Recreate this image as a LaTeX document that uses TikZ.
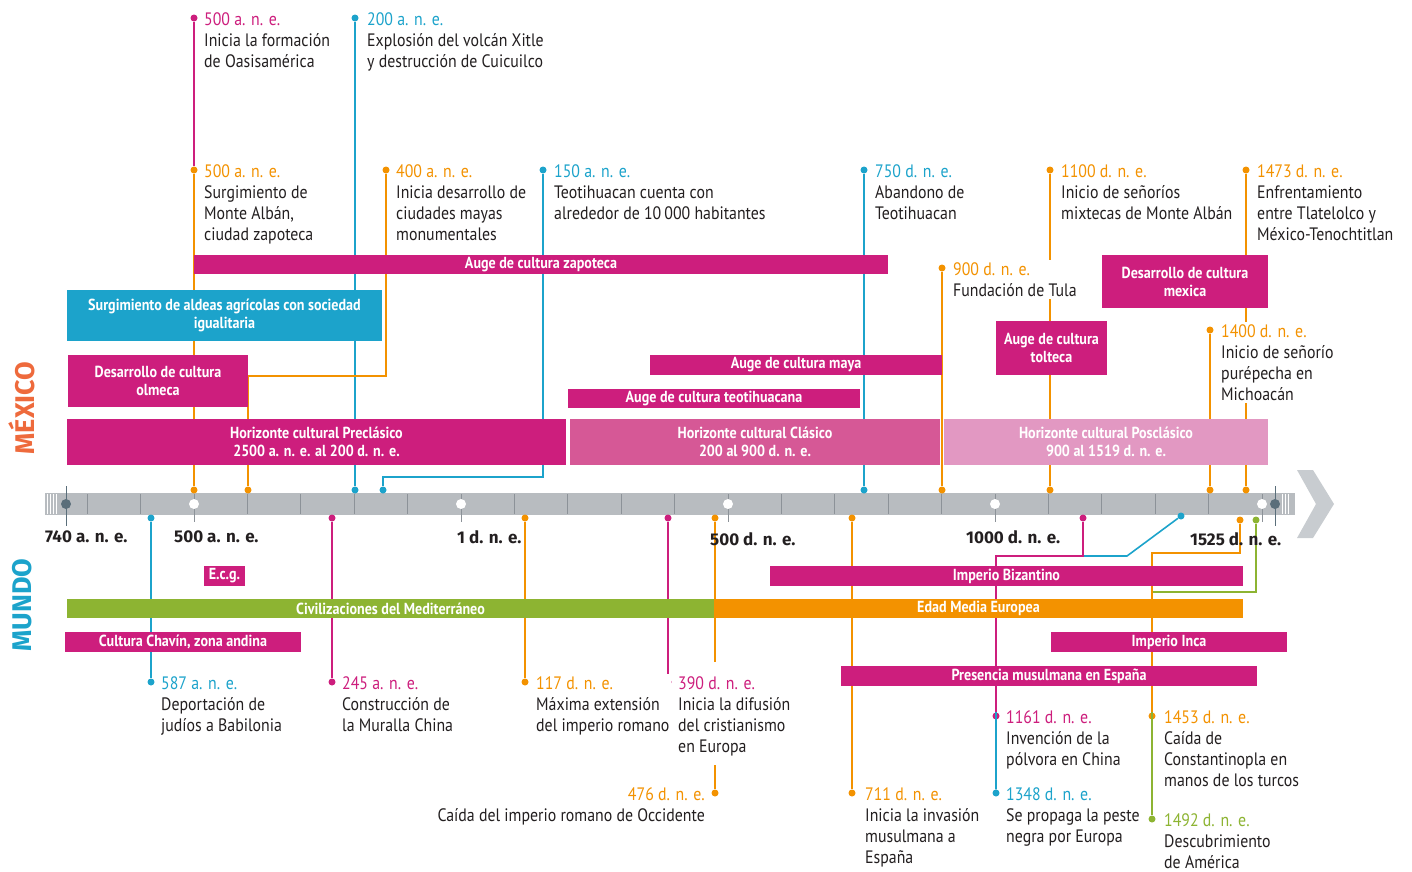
\documentclass[tikz,border=0pt]{standalone}
\usepackage{fontspec}
\setmainfont{PT Sans}[FakeStretch=0.88]
\newfontfamily\axisfont{Fira Sans}
\usetikzlibrary{positioning}

\definecolor{mag}{RGB}{205,30,125}
\definecolor{cyanev}{RGB}{28,163,203}
\definecolor{orangeev}{RGB}{243,146,0}
\definecolor{greenev}{RGB}{141,180,50}
\definecolor{clasico}{RGB}{214,88,150}
\definecolor{posclasico}{RGB}{226,152,194}
\definecolor{axisgray}{RGB}{184,188,192}
\definecolor{arrowgray}{RGB}{200,204,208}
\definecolor{tickgray}{RGB}{140,146,152}
\definecolor{endgray}{RGB}{90,110,122}
\definecolor{ink}{RGB}{35,31,32}
\definecolor{mexicocol}{RGB}{238,106,60}

\begin{document}
\begin{tikzpicture}[x=1pt,y=-1pt,
    epoch/.style={rectangle, inner sep=0pt, align=center, text=white,
                  font=\bfseries\fontsize{16}{18}\selectfont},
    ev/.style={anchor=north west, inner sep=2pt, align=left, text=ink,
               fill=white, font=\fontsize{18}{21.3}\selectfont},
    evdot/.style={circle, inner sep=0pt, minimum size=7pt},
    link/.style={line width=1.6pt},
    yr/.style={anchor=west, inner sep=0pt, text=ink,
               font=\axisfont\bfseries\fontsize{17}{20}\selectfont},
    side/.style={rotate=90, inner sep=0pt,
                 font=\axisfont\bfseries\fontsize{27}{30}\selectfont}]

    \useasboundingbox (0,0) rectangle (1412,871);

    % axis
    \fill[axisgray] (45,493) rectangle (1295,515);
    \fill[arrowgray] (1297,470) -- (1313,470) -- (1334,504) -- (1313,538)
        -- (1297,538) -- (1316,504) -- cycle;
    \foreach \h in {47,50,53,56,1282,1285,1288}
        \draw[white, line width=0.8pt] (\h,494) -- (\h,514);
    \foreach \k in {0,...,22}
        \draw[tickgray, line width=0.8pt] ({87.2+53.4*\k},494) -- ({87.2+53.4*\k},514);
    \foreach \px in {194,461,728,995,1262} {
        \draw[tickgray, line width=0.8pt] (\px,508) -- (\px,522);
        \fill[white] (\px,504) circle (5pt);
    }
    \draw[endgray, line width=1pt] (66,486) -- (66,526);
    \draw[endgray, line width=1pt] (1275,486) -- (1275,526);
    \fill[endgray] (66,504) circle (5pt);
    \fill[endgray] (1275,504) circle (5pt);

    % dots, Mexico
    \node[evdot, fill=mag] (oasis) at (194,18) {};
    \node[evdot, fill=cyanev] (xitle) at (355,18) {};
    \node[evdot, fill=orangeev] (montealban) at (194,170) {};
    \node[evdot, fill=orangeev] (mayas) at (386,170) {};
    \node[evdot, fill=cyanev] (teoti) at (543,170) {};
    \node[evdot, fill=cyanev] (abandono) at (864,170) {};
    \node[evdot, fill=orangeev] (mixtecas) at (1050,170) {};
    \node[evdot, fill=orangeev] (tlatelolco) at (1246,170) {};
    \node[evdot, fill=orangeev] (tula) at (942,268) {};
    \node[evdot, fill=orangeev] (purepecha) at (1210,330) {};

    \node[evdot, fill=cyanev] (xitleAx) at (355,490) {};
    \node[evdot, fill=orangeev] (montealbanAx) at (194,490) {};
    \node[evdot, fill=orangeev] (mayasAx) at (248,490) {};
    \node[evdot, fill=cyanev] (teotiAx) at (383,490) {};
    \node[evdot, fill=cyanev] (abandonoAx) at (864,490) {};
    \node[evdot, fill=orangeev] (mixtecasAx) at (1050,490) {};
    \node[evdot, fill=orangeev] (tlatelolcoAx) at (1246,490) {};
    \node[evdot, fill=orangeev] (tulaAx) at (942,490) {};
    \node[evdot, fill=orangeev] (purepechaAx) at (1210,490) {};

    % dots, Mundo
    \node[evdot, fill=cyanev] (babiloniaAx) at (151,518) {};
    \node[evdot, fill=mag] (murallaAx) at (332,518) {};
    \node[evdot, fill=orangeev] (romanoAx) at (525,518) {};
    \node[evdot, fill=mag] (cristianismoAx) at (668,518) {};
    \node[evdot, fill=orangeev] (occAx) at (715,518) {};
    \node[evdot, fill=orangeev] (invasionAx) at (852,518) {};
    \node[evdot, fill=mag] (polvoraAx) at (1083,518) {};
    \node[evdot, fill=cyanev] (pesteAx) at (1181,516) {};
    \node[evdot, fill=orangeev] (constAx) at (1240,520) {};
    \node[evdot, fill=greenev] (americaAx) at (1256,520) {};

    \node[evdot, fill=cyanev] (babilonia) at (151,682) {};
    \node[evdot, fill=mag] (muralla) at (332,682) {};
    \node[evdot, fill=orangeev] (romano) at (525,682) {};
    \node[evdot, fill=mag] (cristianismo) at (668,682) {};
    \node[evdot, fill=orangeev] (occ) at (715,793) {};
    \node[evdot, fill=orangeev] (invasion) at (852,793) {};
    \node[evdot, fill=mag] (polvora) at (996,716) {};
    \node[evdot, fill=cyanev] (peste) at (996,793) {};
    \node[evdot, fill=orangeev] (const) at (1152,716) {};
    \node[evdot, fill=greenev] (america) at (1152,819) {};

    \coordinate (mayasK) at (248,376);
    \coordinate (teotiK) at (383,477);
    \coordinate (occGapA) at (715,662);
    \coordinate (occGapB) at (715,765);
    \coordinate (polvoraK) at (996,556);
    \coordinate (pesteK) at (1127,556);
    \coordinate (constK) at (1152,553);
    \coordinate (americaK) at (1152,592);

    % connectors
    \draw[link, mag] (oasis) -- (montealban);
    \draw[link, cyanev] (xitle) -- (xitleAx);
    \draw[link, orangeev] (montealban) -- (montealbanAx);
    \draw[link, orangeev] (mayas) |- (mayasK) -- (mayasAx);
    \draw[link, cyanev] (teoti) |- (teotiK) -- (teotiAx);
    \draw[link, cyanev] (abandono) -- (abandonoAx);
    \draw[link, orangeev] (mixtecas) -- (mixtecasAx);
    \draw[link, orangeev] (tlatelolco) -- (tlatelolcoAx);
    \draw[link, orangeev] (tula) -- (tulaAx);
    \draw[link, orangeev] (purepecha) -- (purepechaAx);

    \draw[link, cyanev] (babiloniaAx) -- (babilonia);
    \draw[link, mag] (murallaAx) -- (muralla);
    \draw[link, orangeev] (romanoAx) -- (romano);
    \draw[link, mag] (cristianismoAx) -- (cristianismo);
    \draw[link, orangeev] (occAx) -- (occGapA);
    \draw[link, orangeev] (occGapB) -- (occ);
    \draw[link, orangeev] (invasionAx) -- (invasion);
    \draw[link, cyanev] (pesteAx) -- (pesteK) -- (polvoraK) -- (peste);
    \draw[link, mag] (polvoraAx) |- (polvoraK) -- (polvora);
    \draw[link, greenev] (americaAx) |- (americaK) -- (america);
    \draw[link, orangeev] (constAx) |- (constK) -- (const);

    % periods, Mexico
    \node[epoch, fill=mag, minimum width=694pt, minimum height=19pt]
        (zapoteca) at (541,264.5) {Auge de cultura zapoteca};
    \node[epoch, fill=cyanev, minimum width=315pt, minimum height=51pt]
        (aldeas) at (224.5,315.5) {Surgimiento de aldeas agrícolas con sociedad\\igualitaria};
    \node[epoch, fill=mag, minimum width=180pt, minimum height=52pt]
        (olmeca) at (158,381) {Desarrollo de cultura\\olmeca};
    \node[epoch, fill=mag, minimum width=499pt, minimum height=46pt]
        (preclasico) at (316.5,442) {Horizonte cultural Preclásico\\2500 a. n. e. al 200 d. n. e.};
    \node[epoch, fill=clasico, minimum width=370pt, minimum height=46pt]
        (clasico) at (755,442) {Horizonte cultural Clásico\\200 al 900 d. n. e.};
    \node[epoch, fill=posclasico, minimum width=324pt, minimum height=46pt]
        (posclasico) at (1106,442) {Horizonte cultural Posclásico\\900 al 1519 d. n. e.};
    \node[epoch, fill=mag, minimum width=292pt, minimum height=20pt]
        (maya) at (796,365) {Auge de cultura maya};
    \node[epoch, fill=mag, minimum width=292pt, minimum height=19pt]
        (teotihuacana) at (714,398.5) {Auge de cultura teotihuacana};
    \node[epoch, fill=mag, minimum width=111pt, minimum height=54pt]
        (tolteca) at (1051.5,348) {Auge de cultura\\tolteca};
    \node[epoch, fill=mag, minimum width=166pt, minimum height=53pt]
        (mexica) at (1185,281.5) {Desarrollo de cultura\\mexica};

    % periods, Mundo
    \node[epoch, fill=mag, minimum width=41pt, minimum height=20pt]
        (ecg) at (224.5,576) {E.c.g.};
    \node[epoch, fill=greenev, minimum width=647pt, minimum height=19pt]
        (mediterraneo) at (390.5,608.5) {Civilizaciones del Mediterráneo};
    \node[epoch, fill=orangeev, minimum width=529pt, minimum height=19pt]
        (edadmedia) at (978.5,608.5) {Edad Media Europea};
    \node[epoch, fill=mag, minimum width=473pt, minimum height=20pt]
        (bizantino) at (1006.5,576) {Imperio Bizantino};
    \node[epoch, fill=mag, minimum width=236pt, minimum height=20pt]
        (chavin) at (183,642) {Cultura Chavín, zona andina};
    \node[epoch, fill=mag, minimum width=236pt, minimum height=20pt]
        (inca) at (1169,642) {Imperio Inca};
    \node[epoch, fill=mag, minimum width=416pt, minimum height=20pt]
        (musulmana) at (1049,676) {Presencia musulmana en España};

    % labels, Mexico
    \node[ev] (oasisTx) at ([xshift=8pt,yshift=8pt]oasis.center)
        {\textcolor{mag}{500 a. n. e.}\\Inicia la formación\\de Oasisamérica};
    \node[ev] (xitleTx) at ([xshift=10pt,yshift=8pt]xitle.center)
        {\textcolor{cyanev}{200 a. n. e.}\\Explosión del volcán Xitle\\y destrucción de Cuicuilco};
    \node[ev] (montealbanTx) at ([xshift=8pt,yshift=8pt]montealban.center)
        {\textcolor{orangeev}{500 a. n. e.}\\Surgimiento de\\Monte Albán,\\ciudad zapoteca};
    \node[ev] (mayasTx) at ([xshift=8pt,yshift=8pt]mayas.center)
        {\textcolor{orangeev}{400 a. n. e.}\\Inicia desarrollo de\\ciudades mayas\\monumentales};
    \node[ev] (teotiTx) at ([xshift=9pt,yshift=8pt]teoti.center)
        {\textcolor{cyanev}{150 a. n. e.}\\Teotihuacan cuenta con\\alrededor de 10\,000 habitantes};
    \node[ev] (abandonoTx) at ([xshift=9pt,yshift=8pt]abandono.center)
        {\textcolor{cyanev}{750 d. n. e.}\\Abandono de\\Teotihuacan};
    \node[ev] (mixtecasTx) at ([xshift=9pt,yshift=8pt]mixtecas.center)
        {\textcolor{orangeev}{1100 d. n. e.}\\Inicio de señoríos\\mixtecas de Monte Albán};
    \node[ev] (tlatelolcoTx) at ([xshift=9pt,yshift=8pt]tlatelolco.center)
        {\textcolor{orangeev}{1473 d. n. e.}\\Enfrentamiento\\entre Tlatelolco y\\México-Tenochtitlan};
    \node[ev] (tulaTx) at ([xshift=9pt,yshift=8pt]tula.center)
        {\textcolor{orangeev}{900 d. n. e.}\\Fundación de Tula};
    \node[ev] (purepechaTx) at ([xshift=9pt,yshift=8pt]purepecha.center)
        {\textcolor{orangeev}{1400 d. n. e.}\\Inicio de señorío\\purépecha en\\Michoacán};

    % labels, Mundo
    \node[ev] (babiloniaTx) at ([xshift=8pt,yshift=8pt]babilonia.center)
        {\textcolor{cyanev}{587 a. n. e.}\\Deportación de\\judíos a Babilonia};
    \node[ev] (murallaTx) at ([xshift=8pt,yshift=8pt]muralla.center)
        {\textcolor{mag}{245 a. n. e.}\\Construcción de\\la Muralla China};
    \node[ev] (romanoTx) at ([xshift=9pt,yshift=8pt]romano.center)
        {\textcolor{orangeev}{117 d. n. e.}\\Máxima extensión\\del imperio romano};
    \node[ev] (cristianismoTx) at ([xshift=8pt,yshift=8pt]cristianismo.center)
        {\textcolor{mag}{390 d. n. e.}\\Inicia la difusión\\del cristianismo\\en Europa};
    \node[ev, anchor=north east, align=right] (occTx) at ([xshift=-8pt,yshift=8pt]occ.center)
        {\textcolor{orangeev}{476 d. n. e.}\\Caída del imperio romano de Occidente};
    \node[ev] (invasionTx) at ([xshift=11pt,yshift=8pt]invasion.center)
        {\textcolor{orangeev}{711 d. n. e.}\\Inicia la invasión\\musulmana a\\España};
    \node[ev] (polvoraTx) at ([xshift=8pt,yshift=8pt]polvora.center)
        {\textcolor{mag}{1161 d. n. e.}\\Invención de la\\pólvora en China};
    \node[ev] (pesteTx) at ([xshift=8pt,yshift=8pt]peste.center)
        {\textcolor{cyanev}{1348 d. n. e.}\\Se propaga la peste\\negra por Europa};
    \node[ev] (constTx) at ([xshift=10pt,yshift=8pt]const.center)
        {\textcolor{orangeev}{1453 d. n. e.}\\Caída de\\Constantinopla en\\manos de los turcos};
    \node[ev] (americaTx) at ([xshift=10pt,yshift=8pt]america.center)
        {\textcolor{greenev}{1492 d. n. e.}\\Descubrimiento\\de América};

    % axis years
    \node[yr] (y740) at (45,537) {740 a. n. e.};
    \node[yr] (y500a) at (174,537) {500 a. n. e.};
    \node[yr] (y1) at (457,537) {1 d. n. e.};
    \node[yr] (y500d) at (710,539) {500 d. n. e.};
    \node[yr] (y1000) at (966,537) {1000 d. n. e.};
    \node[yr] (y1525) at (1190,539) {1525 d. n. e.};

    \node[side, text=mexicocol] (mexico) at (22,408) {MÉXICO};
    \node[side, text=cyanev] (mundo) at (22,605) {MUNDO};

\end{tikzpicture}
\end{document}
